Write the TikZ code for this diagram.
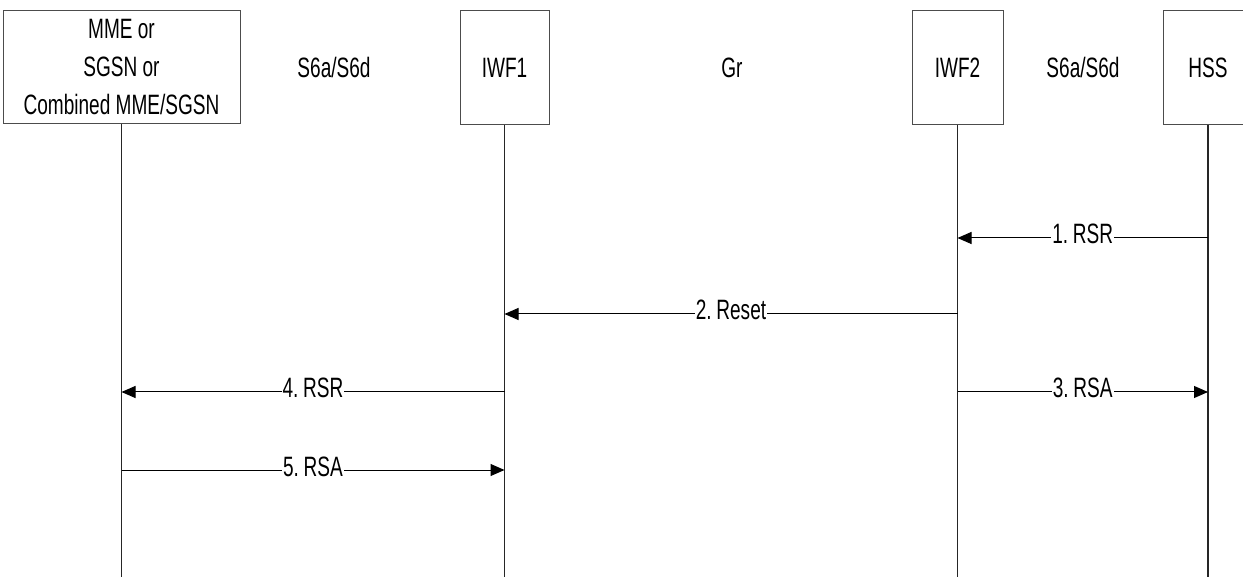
\documentclass[tikz,border=0pt]{standalone}
\usepackage{fontspec}
\setmainfont[FakeStretch=0.68]{Liberation Sans}
\usetikzlibrary{arrows.meta}
\begin{document}
\begin{tikzpicture}[x=1pt,y=-1pt,
  ent/.style={draw=black!70, line width=1pt, fill=white, inner sep=0pt, align=center, font=\fontsize{28}{38}\selectfont},
  life/.style={draw=black!85, line width=1.1pt},
  msg/.style={draw=black, line width=1pt, -{Triangle[length=14pt,width=12pt]}},
  lbl/.style={fill=white, inner xsep=1pt, inner ysep=0.5pt, anchor=base, yshift=-6pt, font=\fontsize{28}{30}\selectfont},
  iface/.style={font=\fontsize{28}{30}\selectfont, anchor=base}]
\useasboundingbox (0,0) rectangle (1243,577);
\coordinate (bot) at (0,577);
% entities
\node[ent, minimum width=237pt, minimum height=113pt] (mme) at (121.5,67.5) {MME or\\SGSN or\\Combined MME/SGSN};
\node[ent, minimum width=89pt, minimum height=114pt] (iwf1) at (504.5,68) {IWF1};
\node[ent, minimum width=91pt, minimum height=114pt] (iwf2) at (957.5,68) {IWF2};
\node[ent, minimum width=90pt, minimum height=114pt] (hss) at (1208,68) {HSS};
% interface labels
\node[iface] (if1) at (334,78) {S6a/S6d};
\node[iface] (if2) at (732,78) {Gr};
\node[iface] (if3) at (1083,78) {S6a/S6d};
% lifelines
\draw[life] (mme.south) -- (mme.south |- bot);
\draw[life] (iwf1.south) -- (iwf1.south |- bot);
\draw[life] (iwf2.south) -- (iwf2.south |- bot);
\draw[life] (hss.south) -- (hss.south |- bot);
% message anchor points
\coordinate (y1) at (0,238);
\coordinate (y2) at (0,314);
\coordinate (y3) at (0,392);
\coordinate (y5) at (0,470);
\draw[msg] (hss.south |- y1) -- (iwf2.south |- y1) node[lbl, midway] (l1) {1.\,RSR};
\draw[msg] (iwf2.south |- y2) -- (iwf1.south |- y2) node[lbl, midway] (l2) {2.\,Reset};
\draw[msg] (iwf2.south |- y3) -- (hss.south |- y3) node[lbl, midway] (l3) {3.\,RSA};
\draw[msg] (iwf1.south |- y3) -- (mme.south |- y3) node[lbl, midway] (l4) {4.\,RSR};
\draw[msg] (mme.south |- y5) -- (iwf1.south |- y5) node[lbl, midway] (l5) {5.\,RSA};
\end{tikzpicture}
\end{document}
